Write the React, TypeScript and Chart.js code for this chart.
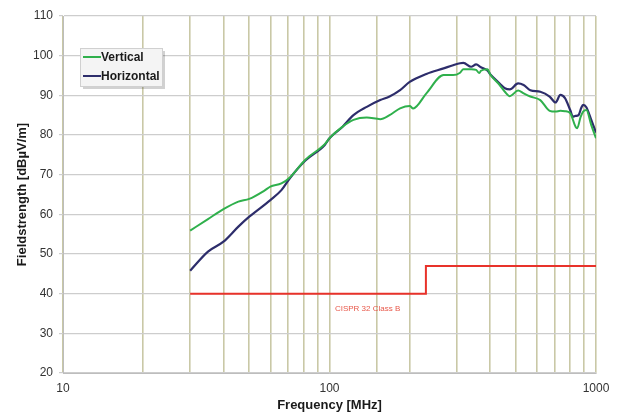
import React, { useEffect, useRef } from "react";
import { Chart, registerables } from "chart.js";
Chart.register(...registerables);

const verticalFreq = [30, 35, 40, 45.5, 50, 57, 60, 66, 71, 81, 96, 100, 112, 123, 138, 155, 168, 184, 200, 206, 231, 268, 291, 309, 318, 340, 355, 365, 370, 392, 400, 435, 455, 475, 510, 535, 567, 618, 670, 705, 735, 765, 800, 838, 850, 875, 895, 920, 960, 1000];
const verticalLevel = [55.9, 58.8, 61.3, 63.2, 63.9, 66.0, 67.0, 67.8, 69.3, 73.7, 77.7, 79.2, 82.1, 83.8, 84.4, 84.0, 85.0, 86.7, 87.3, 86.7, 90.5, 95.1, 95.1, 95.7, 96.6, 96.6, 96.4, 95.6, 96.2, 96.6, 95.4, 92.6, 90.9, 89.8, 91.2, 90.5, 89.7, 88.8, 86.1, 85.9, 86.1, 86.0, 85.5, 82.1, 81.7, 84.5, 85.9, 86.3, 82.5, 79.2];

const horizontalFreq = [30, 35, 40, 45.5, 50, 60, 66, 71, 81, 96, 100, 112, 123, 138, 155, 168, 184, 200, 231, 268, 291, 309, 318, 340, 355, 370, 392, 400, 435, 455, 475, 510, 535, 567, 618, 670, 705, 735, 765, 800, 820, 838, 860, 880, 895, 920, 960, 1000];
const horizontalLevel = [45.8, 50.6, 53.1, 56.9, 59.4, 63.6, 66.1, 69.1, 73.5, 77.5, 79.2, 82.1, 85.0, 87.1, 88.8, 89.7, 91.3, 93.4, 95.4, 96.8, 97.6, 98.1, 98.2, 97.2, 97.8, 97.1, 96.2, 95.4, 93.0, 91.8, 91.5, 93.0, 92.6, 91.3, 90.9, 89.7, 88.2, 90.1, 89.3, 86.3, 84.6, 84.8, 85.0, 86.8, 87.6, 87.0, 83.8, 80.6];

const limitFreq = [30, 230, 230, 1000];
const limitLevel = [40, 40, 47, 47];

const xTickLabels = [10, 100, 1000];
const seriesLabels = ["Vertical", "Horizontal", "CISPR 32 Class B"];

const FONT = "Arial, 'Liberation Sans', sans-serif";

const toPoints = (xs: number[], ys: number[]) => xs.map((x, i) => ({ x, y: ys[i] }));

const overlayPlugin = {
  id: "overlay",
  afterDatasetsDraw(chart: any) {
    const { ctx, scales } = chart;
    ctx.save();
    ctx.fillStyle = "#e8584a";
    ctx.font = `8px ${FONT}`;
    ctx.textAlign = "center";
    ctx.textBaseline = "middle";
    ctx.fillText(seriesLabels[2], scales.x.getPixelForValue(139), scales.y.getPixelForValue(36.3));
    ctx.restore();

    const bx = 80, by = 48, bw = 82, bh = 38;
    ctx.save();
    ctx.fillStyle = "rgba(0,0,0,0.18)";
    ctx.fillRect(bx + 3, by + 3, bw, bh);
    ctx.fillStyle = "#f4f4f4";
    ctx.fillRect(bx, by, bw, bh);
    ctx.strokeStyle = "#d0d0d0";
    ctx.lineWidth = 1;
    ctx.strokeRect(bx + 0.5, by + 0.5, bw, bh);
    const ds = chart.data.datasets;
    [0, 1].forEach((i) => {
      const yy = by + 9 + i * 19;
      ctx.strokeStyle = ds[i].borderColor;
      ctx.lineWidth = 2;
      ctx.beginPath();
      ctx.moveTo(bx + 3, yy);
      ctx.lineTo(bx + 21, yy);
      ctx.stroke();
      ctx.fillStyle = "#1a1a1a";
      ctx.font = `bold 12px ${FONT}`;
      ctx.textAlign = "left";
      ctx.textBaseline = "middle";
      ctx.fillText(ds[i].label, bx + 21, yy + 1);
    });
    ctx.restore();
  },
};

export default function App() {
  const ref = useRef<HTMLCanvasElement>(null);
  useEffect(() => {
    if (!ref.current) return;
    const chart = new Chart(ref.current, {
      type: "line",
      data: {
        datasets: [
          {
            label: seriesLabels[0],
            data: toPoints(verticalFreq, verticalLevel),
            borderColor: "#2fb04c",
            borderWidth: 2,
            pointRadius: 0,
            cubicInterpolationMode: "monotone",
          },
          {
            label: seriesLabels[1],
            data: toPoints(horizontalFreq, horizontalLevel),
            borderColor: "#2d2d6b",
            borderWidth: 2.2,
            pointRadius: 0,
            cubicInterpolationMode: "monotone",
          },
          {
            label: seriesLabels[2],
            data: toPoints(limitFreq, limitLevel),
            borderColor: "#e8322a",
            borderWidth: 2,
            pointRadius: 0,
            tension: 0,
          },
        ],
      },
      options: {
        animation: false,
        responsive: false,
        maintainAspectRatio: false,
        layout: { padding: { left: 0, right: 25, top: 16, bottom: 0 } },
        plugins: { legend: { display: false }, tooltip: { enabled: false } },
        scales: {
          x: {
            type: "logarithmic",
            min: 10,
            max: 1000,
            afterFit: (s: any) => {
              s.height = 42;
            },
            grid: {
              color: "#c9c8a6",
              lineWidth: 1.6,
              drawTicks: false,
            },
            border: { color: "#bdbdbd", width: 1 },
            ticks: {
              autoSkip: false,
              maxRotation: 0,
              padding: 8,
              color: "#333333",
              font: { family: FONT, size: 12 },
              callback: (v: any) => (xTickLabels.includes(Number(v)) ? String(v) : ""),
            },
            title: {
              display: true,
              text: "Frequency [MHz]",
              color: "#1a1a1a",
              font: { family: FONT, size: 13, weight: "bold" },
              padding: { top: 0, bottom: 2 },
            },
          },
          y: {
            min: 20,
            max: 110,
            afterFit: (s: any) => {
              s.width = 63;
            },
            grid: {
              color: "#cdcdcd",
              lineWidth: 1.2,
              tickLength: 4,
            },
            border: { color: "#bdbdbd", width: 1 },
            ticks: {
              stepSize: 10,
              padding: 6,
              color: "#333333",
              font: { family: FONT, size: 12 },
            },
            title: {
              display: true,
              text: "Fieldstrength [dBµV/m]",
              color: "#1a1a1a",
              font: { family: FONT, size: 13, weight: "bold" },
              padding: { top: 15, bottom: 0 },
            },
          },
        },
      },
      plugins: [overlayPlugin],
    } as any);
    return () => chart.destroy();
  }, []);
  return (
    <div style={{ position: "fixed", left: 0, top: 0, width: 621, height: 415, background: "#fff" }}>
      <canvas ref={ref} width={621} height={415} style={{ width: 621, height: 415 }} />
    </div>
  );
}
